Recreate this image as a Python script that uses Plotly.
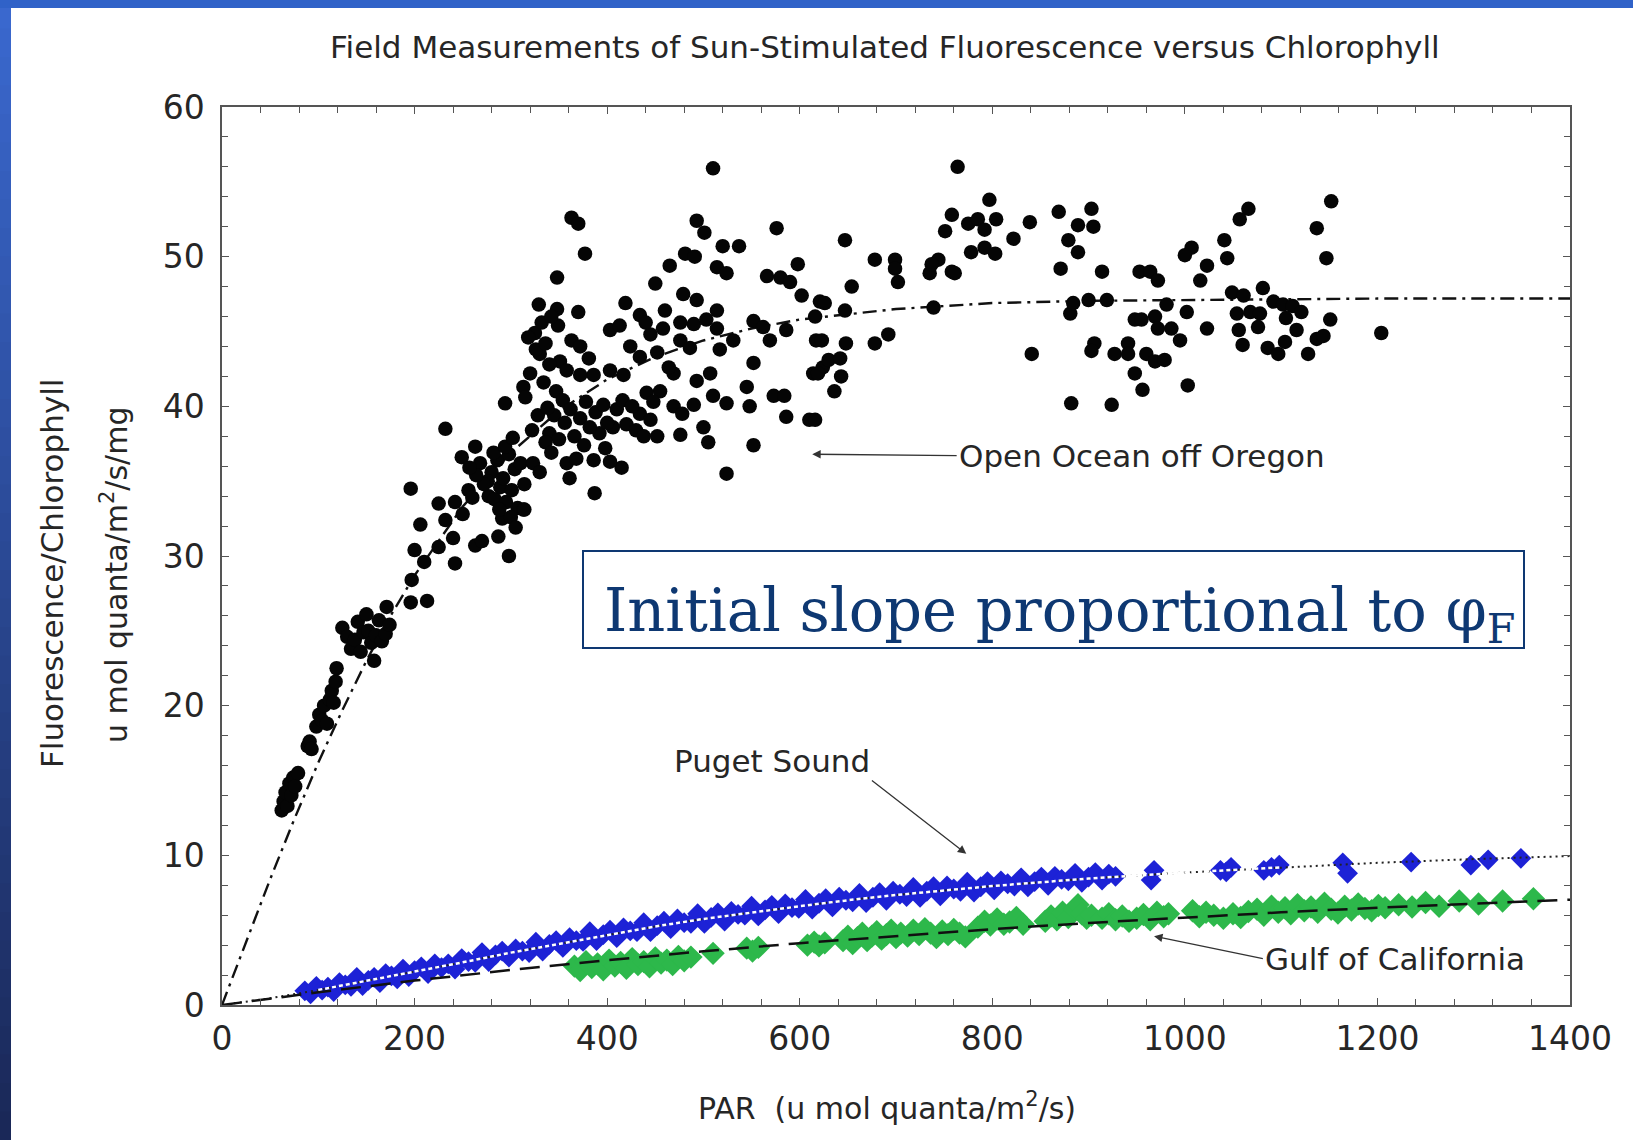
import plotly.graph_objects as go

# ---------------- data ----------------
oregon_points = [
    (62, 13.0), (64, 13.6), (66, 14.2), (68, 13.3), (70, 14.8), (72, 14.0), (74, 15.2), (76, 14.6), (79, 15.5),
    (89, 17.3), (91, 17.6), (93, 17.1),
    (98, 18.6), (101, 19.4), (104, 19.0), (106, 20.0), (109, 18.8), (112, 20.4), (114, 21.0), (116, 20.2),
    (118, 21.6), (119, 22.5),
    (125, 25.2), (130, 24.6), (134, 23.8), (138, 24.4), (141, 25.6), (144, 23.6), (147, 24.9), (150, 26.1),
    (152, 25.0), (155, 24.2), (158, 23.0), (160, 24.7), (163, 25.7), (166, 24.3), (170, 24.8), (171, 26.6),
    (174, 25.4),
    (196, 26.9), (213, 27.0), (197, 28.4), (200, 30.4), (206, 32.1), (196, 34.5), (210, 29.6),
    (225, 30.6), (242, 29.5), (240, 31.2), (225, 33.5), (232, 32.4), (242, 33.6), (250, 32.8), (256, 34.4),
    (263, 30.7), (270, 31.0), (287, 31.3), (298, 30.0), (291, 32.5), (249, 36.6), (263, 37.3), (232, 38.5),
    (277, 34.0), (280, 35.6), (283, 33.8), (286, 36.4), (289, 34.6), (292, 35.2), (295, 33.6), (298, 36.8),
    (301, 34.4), (304, 35.8), (307, 33.2), (310, 36.2), (282, 36.9), (294, 37.3), (276, 35.0), (288, 33.1),
    (300, 32.6), (305, 31.9), (272, 34.8), (268, 36.2), (264, 35.4), (260, 33.9), (257, 35.9), (313, 33.1),
    (314, 34.8),
    (510, 55.9), (363, 52.6), (370, 52.2), (377, 50.2), (348, 48.6), (493, 52.4), (501, 51.6), (576, 51.9),
    (520, 50.7), (537, 50.7), (481, 50.2), (491, 50.0), (465, 49.4), (450, 48.2), (514, 49.3), (524, 48.9),
    (598, 49.5), (566, 48.7), (580, 48.6), (590, 48.3), (602, 47.4), (621, 47.0), (329, 46.8), (348, 46.5),
    (370, 46.3), (349, 45.4), (325, 44.9), (330, 43.5), (419, 46.9), (434, 46.1), (460, 46.4), (479, 47.5),
    (493, 47.1), (476, 45.6), (490, 45.5), (503, 45.8), (514, 46.4), (514, 45.2), (403, 45.1), (413, 45.4),
    (363, 44.4), (372, 44.0), (381, 43.2), (424, 44.0), (434, 43.3), (476, 44.4), (486, 43.9), (517, 43.8),
    (531, 44.4), (552, 45.7), (562, 45.3), (569, 44.4), (586, 45.1), (617, 44.4), (614, 42.2), (624, 42.6),
    (552, 42.9), (545, 41.3), (548, 40.0), (573, 40.7), (584, 40.7), (586, 39.3), (610, 39.1), (552, 37.4),
    (524, 35.5), (500, 38.6), (505, 37.6), (476, 38.1), (469, 42.2), (464, 42.6), (493, 41.7), (507, 42.2),
    (510, 40.7), (524, 40.2), (490, 40.1), (469, 40.0), (478, 39.5), (455, 41.0), (441, 40.9), (403, 42.4),
    (417, 42.1), (386, 42.1), (372, 42.1), (351, 43.0), (358, 42.4), (347, 41.0), (354, 40.4), (313, 41.3),
    (315, 40.6), (294, 40.2), (361, 35.2), (387, 34.2), (415, 35.9), (314, 33.1), (302, 37.9), (323, 36.2),
    (330, 35.6), (358, 36.2), (368, 36.5), (386, 36.4), (403, 36.3), (420, 38.8), (434, 39.5), (445, 39.1),
    (452, 38.0), (392, 38.2), (406, 38.6),
    (340, 38.2), (345, 39.4), (350, 37.8), (356, 38.9), (362, 39.8), (366, 38.0), (372, 39.2), (378, 40.3),
    (382, 38.6), (388, 39.6), (396, 40.1), (400, 38.9), (410, 39.8), (416, 40.4), (426, 40.0), (430, 38.4),
    (438, 38.0), (448, 40.3), (336, 37.6), (342, 36.9), (376, 37.4), (398, 37.2),
    (320, 42.2), (326, 43.8), (332, 45.6), (336, 44.2), (340, 42.8), (334, 41.6), (328, 39.4), (322, 38.4),
    (318, 44.6), (342, 46.0), (338, 39.9), (445, 44.8), (452, 43.6), (458, 45.2), (440, 45.6),
    (764, 56.0), (647, 51.1), (678, 49.8), (699, 49.8), (699, 49.2), (702, 48.3), (654, 48.0), (626, 46.9),
    (647, 46.4), (616, 46.0), (623, 44.4), (630, 43.1), (619, 42.2), (643, 42.0), (636, 41.0), (616, 39.1),
    (678, 44.2), (692, 44.8), (735, 48.9), (744, 49.8), (737, 49.5), (758, 49.0), (761, 48.9), (739, 46.6),
    (751, 51.7), (758, 52.8), (775, 52.2), (785, 52.5), (792, 51.8), (804, 52.5), (797, 53.8), (778, 50.3),
    (792, 50.6), (803, 50.2), (822, 51.2), (839, 52.3), (869, 53.0), (889, 52.1), (903, 53.2), (905, 52.0),
    (879, 51.1), (889, 50.3), (871, 49.2), (841, 43.5), (881, 46.2), (884, 46.9), (900, 47.1), (914, 49.0),
    (919, 47.1), (882, 40.2), (924, 40.1), (906, 44.2), (903, 43.7), (927, 43.5), (941, 44.2), (941, 43.5),
    (960, 43.5), (969, 43.0), (979, 43.1), (948, 42.2), (956, 41.1), (948, 45.8), (955, 45.8), (953, 49.0),
    (964, 49.0), (972, 48.4), (969, 46.0), (981, 46.8), (972, 45.2), (986, 45.2), (648, 44.2), (642, 43.2),
    (1152, 53.7), (1137, 51.9), (1147, 49.9), (1066, 53.2), (1057, 52.5), (1041, 51.1), (1044, 49.9),
    (1007, 50.6), (1000, 50.1), (1023, 49.4), (1016, 48.4), (1081, 47.9), (1049, 47.6), (1061, 47.4),
    (1092, 47.0), (1102, 46.8), (1112, 46.7), (1121, 46.3), (1002, 46.3), (1023, 45.2), (995, 44.4),
    (1054, 46.2), (1068, 46.3), (1078, 46.2), (1056, 45.1), (1076, 45.3), (1105, 45.9), (1116, 45.1),
    (1060, 44.1), (1086, 43.9), (1097, 43.5), (1104, 44.3), (1128, 43.5), (1137, 44.5), (1144, 44.7),
    (1151, 45.8), (1204, 44.9), (1003, 41.4),
]
oregon_x = [p[0] for p in oregon_points]
oregon_y = [p[1] for p in oregon_points]

puget_points = [
    (86, 0.95), (92, 0.75), (98, 1.25), (104, 1.0), (110, 1.2), (116, 0.9), (122, 1.5), (128, 1.35),
    (134, 1.25), (140, 1.85), (146, 1.3), (152, 1.65), (158, 1.85), (164, 1.5), (170, 2.1), (176, 1.95),
    (182, 1.75), (188, 2.4), (194, 1.9), (200, 2.3), (207, 2.55), (214, 2.1), (221, 2.75), (228, 2.5),
    (235, 2.75), (242, 2.4), (249, 3.1), (256, 2.9), (263, 2.85), (270, 3.5), (277, 2.9), (284, 3.35),
    (291, 3.6), (298, 3.2), (305, 3.75), (312, 3.6), (319, 3.5), (326, 4.2), (333, 3.6), (340, 4.05),
    (347, 4.3), (354, 3.85), (361, 4.5), (368, 4.3), (375, 4.25), (382, 4.9), (389, 4.3), (396, 4.7),
    (403, 5.0), (410, 4.5), (417, 5.15), (424, 4.95), (431, 4.9), (438, 5.5), (445, 4.9), (452, 5.3),
    (459, 5.6), (466, 5.1), (473, 5.75), (480, 5.5), (487, 5.45), (494, 6.1), (501, 5.45), (508, 5.85),
    (515, 6.15), (522, 5.6), (529, 6.25), (536, 6.05), (543, 6.0), (550, 6.6), (557, 5.95), (564, 6.35),
    (571, 6.65), (578, 6.1), (585, 6.75), (592, 6.5), (599, 6.45), (606, 7.05), (613, 6.4), (620, 6.8),
    (627, 7.1), (634, 6.55), (641, 7.2), (648, 7.0), (655, 6.9), (662, 7.45), (669, 6.85), (676, 7.2),
    (683, 7.5), (690, 7.0), (697, 7.6), (704, 7.4), (711, 7.25), (718, 7.85), (725, 7.2), (732, 7.6),
    (739, 7.9), (746, 7.3), (753, 7.95), (760, 7.75), (767, 7.6), (774, 8.2), (781, 7.55), (788, 7.9),
    (795, 8.25), (802, 7.7), (809, 8.3), (816, 8.1), (823, 7.95), (830, 8.5), (837, 7.9), (844, 8.25),
    (851, 8.55), (858, 8.0), (865, 8.6), (872, 8.4), (879, 8.3), (886, 8.8), (893, 8.2), (900, 8.55),
    (907, 8.85), (914, 8.35), (921, 8.75), (928, 8.6),
    (965, 8.35), (968, 9.0), (1037, 9.0), (1043, 8.9), (1048, 9.2), (1082, 9.0), (1090, 9.2), (1098, 9.35),
    (1164, 9.5), (1169, 8.8), (1235, 9.55), (1297, 9.35), (1315, 9.7), (1349, 9.8),
]
puget_x = [p[0] for p in puget_points]
puget_y = [p[1] for p in puget_points]

gulf_points = [
    (366, 2.6), (372, 2.3), (378, 2.9), (384, 2.5), (390, 2.75), (396, 2.35), (402, 3.0), (408, 2.6),
    (414, 2.85), (420, 2.45), (426, 3.1), (432, 2.7), (438, 2.9), (444, 2.55), (450, 3.15), (456, 2.8),
    (462, 3.0), (468, 2.7), (474, 3.25), (480, 2.95),
    (487, 3.2), (510, 3.45), (545, 3.8), (551, 3.6), (557, 3.85),
    (608, 4.0), (615, 4.2), (620, 3.95), (626, 4.15),
    (645, 4.3), (650, 4.6), (655, 4.1), (660, 4.5), (665, 4.8), (670, 4.3), (675, 4.6), (680, 4.9),
    (685, 4.4), (690, 4.7), (695, 5.0), (700, 4.5), (705, 4.8),
    (712, 4.6), (718, 5.0), (724, 4.7), (730, 5.1), (736, 4.8), (742, 4.5), (748, 4.95), (754, 4.7),
    (760, 5.05), (766, 4.8), (772, 4.55),
    (785, 5.2), (792, 5.6), (798, 5.35), (805, 5.75), (812, 5.4), (818, 5.55), (825, 5.85), (832, 5.4),
    (855, 5.6), (861, 5.95), (867, 5.7), (873, 6.2), (879, 5.85), (885, 6.4), (889, 6.7), (893, 6.1),
    (898, 5.8), (903, 6.0),
    (914, 5.8), (921, 6.1), (928, 5.7), (935, 5.95), (942, 5.6), (950, 5.8), (957, 6.05), (964, 5.7),
    (971, 6.2), (978, 5.9), (983, 6.1),
    (1008, 6.3), (1015, 5.9), (1022, 6.2), (1030, 6.0), (1040, 5.8), (1050, 6.1), (1058, 5.85), (1066, 6.25),
    (1075, 6.4), (1082, 6.0), (1090, 6.6), (1097, 6.2), (1104, 6.5), (1110, 6.1), (1117, 6.7), (1124, 6.3),
    (1131, 6.55), (1138, 6.2), (1145, 6.8), (1152, 6.4), (1159, 6.15), (1166, 6.6), (1173, 6.35), (1180, 6.75),
    (1187, 6.45), (1194, 6.3), (1201, 6.65), (1208, 6.5), (1222, 6.7), (1236, 6.55), (1250, 6.85), (1264, 6.6),
    (1285, 6.95), (1305, 6.75), (1330, 6.95), (1362, 7.1),
]
gulf_x = [p[0] for p in gulf_points]
gulf_y = [p[1] for p in gulf_points]

# fitted curves
oregon_fit_x = [0, 25, 50, 75, 100, 125, 150, 175, 200, 250, 300, 350, 400, 450, 500, 550, 600, 700, 800, 900, 1000, 1200, 1400]
oregon_fit_y = [0, 4.25, 8.4, 12.4, 16.2, 19.7, 23.0, 26.0, 28.7, 33.3, 36.9, 39.7, 41.8, 43.3, 44.4, 45.2, 45.8, 46.5, 46.9, 47.05, 47.1, 47.2, 47.2]

puget_fit_x = [0, 50, 100, 150, 200, 250, 300, 350, 400, 450, 500, 550, 600, 650, 700, 800, 900, 1000, 1100, 1200, 1300, 1400]
puget_fit_y = [0, 0.45, 1.0, 1.6, 2.2, 2.85, 3.5, 4.1, 4.7, 5.25, 5.75, 6.2, 6.6, 7.0, 7.35, 7.95, 8.45, 8.85, 9.2, 9.5, 9.75, 9.95]

gulf_fit_x = [0, 100, 200, 300, 400, 500, 600, 700, 800, 900, 1000, 1100, 1200, 1300, 1400]
gulf_fit_y = [0, 0.85, 1.63, 2.34, 2.99, 3.59, 4.13, 4.62, 5.07, 5.48, 5.85, 6.19, 6.50, 6.78, 7.04]

x_ticks = [0, 200, 400, 600, 800, 1000, 1200, 1400]
y_ticks = [0, 10, 20, 30, 40, 50, 60]

# ---------------- layout geometry ----------------
W, H = 1633, 1140
ML, MR, MT, MB = 222, 63, 107, 135
PW = W - ML - MR
PH = H - MT - MB


def pxx(px):
    return (px - ML) / PW


def pyy(py):
    return (H - MB - py) / PH


FONT = "DejaVu Sans"
TXT = "#262626"

fig = go.Figure()

fig.add_trace(go.Scatter(x=oregon_fit_x, y=oregon_fit_y, mode="lines",
                         line=dict(color="#111", width=2.4, dash="14px,6px,3px,6px"),
                         hoverinfo="skip"))
fig.add_trace(go.Scatter(x=oregon_x, y=oregon_y, mode="markers",
                         marker=dict(symbol="circle", size=14.5, color="#050505"),
                         name="Open Ocean off Oregon"))
fig.add_trace(go.Scatter(x=puget_x, y=puget_y, mode="markers",
                         marker=dict(symbol="diamond", size=16, color="#1d22d6"),
                         name="Puget Sound"))
fig.add_trace(go.Scatter(x=puget_fit_x, y=puget_fit_y, mode="lines",
                         line=dict(color="#222", width=2, dash="2px,4px"),
                         hoverinfo="skip"))
fig.add_trace(go.Scatter(x=puget_fit_x[2:19], y=puget_fit_y[2:19], mode="lines",
                         line=dict(color="white", width=2.5, dash="4px,3px"),
                         hoverinfo="skip"))
fig.add_trace(go.Scatter(x=gulf_x, y=gulf_y, mode="markers",
                         marker=dict(symbol="diamond", size=18, color="#2db84b"),
                         name="Gulf of California"))
fig.add_trace(go.Scatter(x=gulf_fit_x, y=gulf_fit_y, mode="lines",
                         line=dict(color="#111", width=2.5, dash="20px,10px"),
                         hoverinfo="skip"))

shapes = []
# blue slide border: left gradient band and top band
n = 40
c0 = (58, 104, 206)
c1 = (26, 40, 88)
for i in range(n):
    t = i / (n - 1)
    col = "rgb(%d,%d,%d)" % tuple(round(c0[k] + (c1[k] - c0[k]) * t) for k in range(3))
    shapes.append(dict(type="rect", xref="paper", yref="paper",
                       x0=pxx(0), x1=pxx(11), y0=pyy(H * (i + 1) / n + 2), y1=pyy(H * i / n),
                       fillcolor=col, line=dict(width=0), layer="above"))
shapes.append(dict(type="rect", xref="paper", yref="paper",
                   x0=pxx(0), x1=pxx(W), y0=pyy(8), y1=pyy(0),
                   fillcolor="#3062c8", line=dict(width=0), layer="above"))
# box around the statement
shapes.append(dict(type="rect", xref="paper", yref="paper",
                   x0=pxx(583), x1=pxx(1524), y0=pyy(648), y1=pyy(551),
                   fillcolor="white", line=dict(color="#0e3872", width=2), layer="above"))

annotations = [
    dict(text="Field Measurements of Sun-Stimulated Fluorescence versus Chlorophyll",
         xref="paper", yref="paper", x=pxx(885), y=pyy(47), showarrow=False,
         font=dict(family=FONT, size=31, color=TXT), xanchor="center", yanchor="middle"),
    dict(text="PAR  (u mol quanta/m<sup>2</sup>/s)",
         xref="paper", yref="paper", x=pxx(887), y=pyy(1106), showarrow=False,
         font=dict(family=FONT, size=30, color=TXT), xanchor="center", yanchor="middle"),
    dict(text="Fluorescence/Chlorophyll", textangle=-90,
         xref="paper", yref="paper", x=pxx(52), y=pyy(574), showarrow=False,
         font=dict(family=FONT, size=31, color=TXT), xanchor="center", yanchor="middle"),
    dict(text="u mol quanta/m<sup>2</sup>/s/mg", textangle=-90,
         xref="paper", yref="paper", x=pxx(114), y=pyy(575), showarrow=False,
         font=dict(family=FONT, size=30, color=TXT), xanchor="center", yanchor="middle"),
    dict(text="Initial slope proportional to \u03c6<sub>F</sub>",
         xref="paper", yref="paper", x=pxx(1060), y=pyy(614), showarrow=False,
         font=dict(family="DejaVu Serif", size=59, color="#0e3872"),
         xanchor="center", yanchor="middle"),
    # labels with arrows (text box sits at the arrow tail)
    dict(text="Open Ocean off Oregon", x=613, y=36.8, ax=763, ay=36.7,
         xref="x", yref="y", axref="x", ayref="y", xanchor="left", yanchor="middle",
         showarrow=True, arrowhead=2, arrowsize=1.3, arrowwidth=1.3, arrowcolor="#333",
         font=dict(family=FONT, size=31, color=TXT)),
    dict(text="Puget Sound", x=773, y=10.1, ax=675, ay=15.0,
         xref="x", yref="y", axref="x", ayref="y", xanchor="right", yanchor="bottom",
         showarrow=True, arrowhead=2, arrowsize=1.3, arrowwidth=1.3, arrowcolor="#333",
         font=dict(family=FONT, size=31, color=TXT)),
    dict(text="Gulf of California", x=968, y=4.6, ax=1081, ay=3.1,
         xref="x", yref="y", axref="x", ayref="y", xanchor="left", yanchor="middle",
         showarrow=True, arrowhead=2, arrowsize=1.3, arrowwidth=1.3, arrowcolor="#333",
         font=dict(family=FONT, size=31, color=TXT)),
]

axis_common = dict(showgrid=False, zeroline=False, showline=True, linecolor="#555", linewidth=1.5,
                   mirror="ticks", ticks="inside", ticklen=7, tickwidth=1.2, tickcolor="#555",
                   tickfont=dict(family=FONT, size=33, color=TXT))

fig.update_layout(
    width=W, height=H,
    margin=dict(l=ML, r=MR, t=MT, b=MB),
    paper_bgcolor="white", plot_bgcolor="white",
    showlegend=False,
    shapes=shapes, annotations=annotations,
    xaxis=dict(range=[0, 1400], tickvals=x_ticks, ticktext=[str(v) for v in x_ticks],
               minor=dict(dtick=40, tick0=0, ticks="inside", ticklen=6, tickcolor="#555"),
               ticklabelstandoff=4, **axis_common),
    yaxis=dict(range=[0, 60], tickvals=y_ticks, ticktext=[str(v) for v in y_ticks],
               minor=dict(dtick=2, tick0=0, ticks="inside", ticklen=6, tickcolor="#555"),
               ticklabelstandoff=9, **axis_common),
)

fig.write_html("out.html")
